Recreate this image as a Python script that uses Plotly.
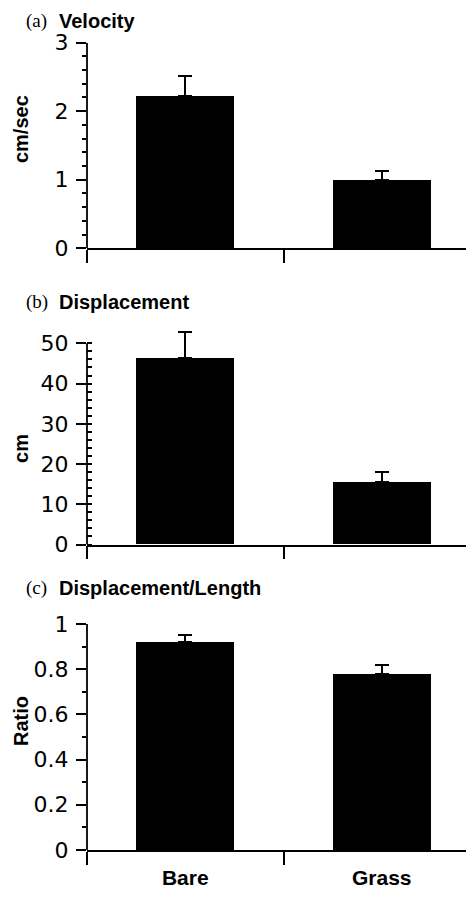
import plotly.graph_objects as go

# ---- data ----
categories = ["Bare", "Grass"]
velocity = [2.22, 1.00]
velocity_err = [0.30, 0.12]
displacement = [46.3, 15.6]
displacement_err = [6.5, 2.4]
ratio = [0.92, 0.78]
ratio_err = [0.03, 0.04]

panel_letters = ["(a)", "(b)", "(c)"]
panel_titles = ["Velocity", "Displacement", "Displacement/Length"]
y_titles = ["cm/sec", "cm", "Ratio"]

# ---- layout constants ----
OFF = 8                  # default page body margin
W, H = 474 - 2 * OFF, 897 - 2 * OFF   # figure fits the window without overflow
L = 87 - OFF             # left margin in figure px
TOP_PAD, BOT_PAD = 12.2, 7.0         # observed vertical inset of the paper area
SANS = "Liberation Sans, Arial, sans-serif"
TICKSANS = "DejaVu Sans, Liberation Sans, sans-serif"
SERIF = "Liberation Serif, Times New Roman, serif"

# plot areas: window-pixel top/bottom
panels_px = [(43, 250), (329.5, 548.3), (628.3, 855.7)]
y_ranges = [[0, 3], [0, 54], [0, 1]]
y_major = [[0, 1, 2, 3], [0, 10, 20, 30, 40, 50], [0, 0.2, 0.4, 0.6, 0.8, 1]]
y_minor = [[k * 0.2 for k in range(16)], list(range(0, 51, 2)), [k * 0.1 for k in range(11)]]
y_line_top = [3, 50, 1]
cross_minor = [True, False, True]
title_y_px = [21, 304, 592]
ytitle_y_px = [130, 452, 726]

def py(p):
    return 1 - (p - OFF - TOP_PAD) / (H - TOP_PAD - BOT_PAD)

def px(p):
    return (p - OFF - L) / (W - L)

series = [(velocity, velocity_err), (displacement, displacement_err), (ratio, ratio_err)]
xpos = list(range(len(categories)))
x_right = -0.5 + (W - L) / 196.5

fig = go.Figure()
annotations = []
shapes = []

for i, ((vals, errs), (top, bot)) in enumerate(zip(series, panels_px)):
    n = i + 1
    xa = "x" if n == 1 else f"x{n}"
    ya = "y" if n == 1 else f"y{n}"
    fig.add_trace(go.Bar(
        x=xpos, y=vals, width=0.5,
        marker=dict(color="black", line=dict(width=0)),
        error_y=dict(type="data", array=errs, arrayminus=[0] * len(errs),
                     symmetric=False, color="black", thickness=2, width=7),
        xaxis=xa, yaxis=ya, showlegend=False,
    ))
    xkey = "xaxis" if n == 1 else f"xaxis{n}"
    ykey = "yaxis" if n == 1 else f"yaxis{n}"
    fig.layout[xkey] = dict(
        domain=[0, 1], anchor=ya, range=[-0.5, x_right],
        showline=True, linecolor="black", linewidth=1.5,
        showgrid=False, zeroline=False,
        tickmode="array", tickvals=xpos, ticktext=categories,
        ticks="", showticklabels=(n == 3),
        tickfont=dict(family=SANS, size=21, color="black", weight="bold"),
        minor=dict(tickmode="array", tickvals=[-0.5, 0.5, 1.5], ticks="outside",
                   ticklen=13, tickwidth=1.5, tickcolor="black"),
        ticklabelstandoff=8,
    )
    fig.layout[ykey] = dict(
        domain=[py(bot), py(top)], anchor=xa, range=y_ranges[i],
        showline=False, showgrid=False, zeroline=False,
        tickmode="array", tickvals=y_major[i],
        ticks="outside", ticklen=10, tickwidth=1.5, tickcolor="black",
        tickfont=dict(family=TICKSANS, size=22, color="black"),
        minor=dict(tickmode="array", tickvals=y_minor[i],
                   ticks="outside" if cross_minor[i] else "inside",
                   ticklen=4 if cross_minor[i] else 5, tickwidth=1.5, tickcolor="black"),
        ticklabelstandoff=3,
    )
    # y axis line (from 0 to the top labelled tick)
    shapes.append(dict(
        type="line", xref=f"{xa} domain", yref=ya,
        x0=0, x1=0, y0=0, y1=y_line_top[i],
        line=dict(color="black", width=1.8),
    ))
    if cross_minor[i]:
        okey = f"yaxis{n + 3}"
        fig.layout[okey] = dict(
            overlaying=ya, anchor=xa, range=y_ranges[i],
            showline=False, showgrid=False, zeroline=False,
            tickmode="array", tickvals=y_minor[i],
            ticks="inside", ticklen=4, tickwidth=1.5, tickcolor="black",
            showticklabels=False,
        )

    # panel titles
    annotations.append(dict(
        text=panel_letters[i], xref="paper", yref="paper",
        x=px(24), y=py(title_y_px[i]), xanchor="left", yanchor="middle",
        showarrow=False, font=dict(family=SERIF, size=19, color="black"),
    ))
    annotations.append(dict(
        text=f"<b>{panel_titles[i]}</b>", xref="paper", yref="paper",
        x=px(57), y=py(title_y_px[i]), xanchor="left", yanchor="middle",
        showarrow=False, font=dict(family=SANS, size=20, color="black"),
    ))
    annotations.append(dict(
        text=f"<b>{y_titles[i]}</b>", xref="paper", yref="paper",
        x=px(21), y=py(ytitle_y_px[i]), xanchor="center", yanchor="middle",
        textangle=-90, showarrow=False,
        font=dict(family=SANS, size=20, color="black"),
    ))

fig.update_layout(
    width=W, height=H,
    margin=dict(l=L, r=0, t=0, b=0),
    paper_bgcolor="white", plot_bgcolor="white",
    annotations=annotations, shapes=shapes,
    bargap=0,
)

fig.write_html("out.html")
